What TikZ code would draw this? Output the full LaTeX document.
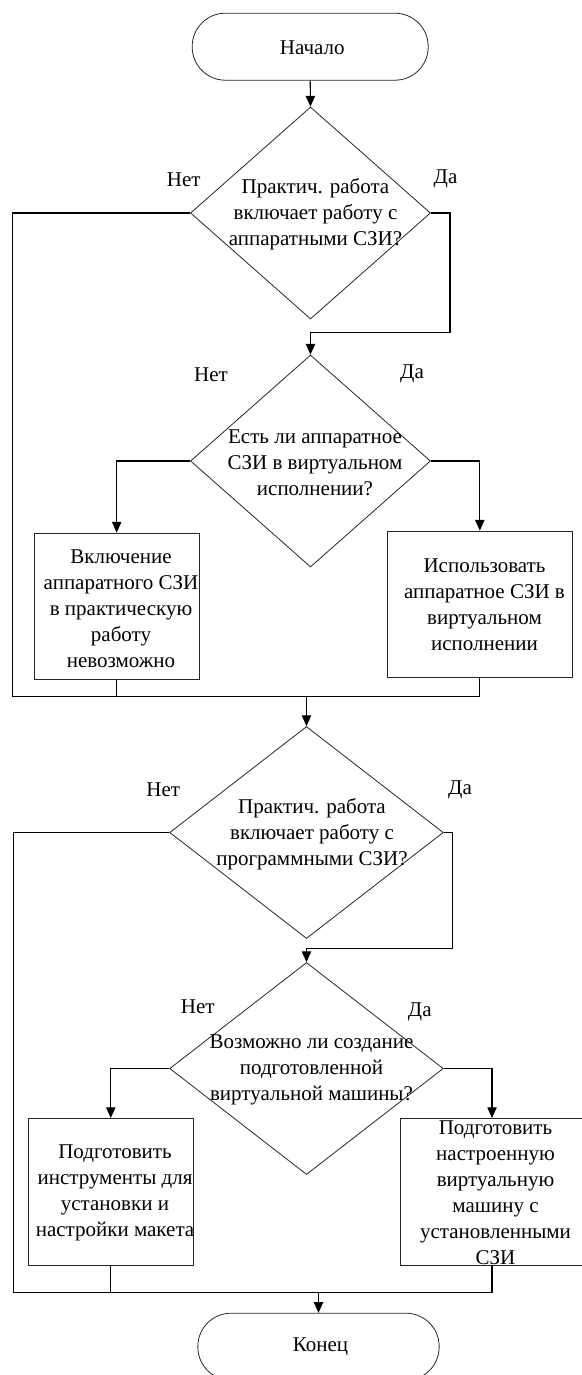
\documentclass[tikz,border=0pt]{standalone}
\usepackage{fontspec}
\setmainfont{Liberation Serif}
\usetikzlibrary{arrows.meta,shapes.geometric}
\begin{document}
\begin{tikzpicture}[x=0.75pt,y=-0.75pt,
  every node/.style={font=\fontsize{15.75}{19.5}\selectfont, inner sep=0pt},
  shapeline/.style={draw=black!85, line width=0.6pt},
  terminal/.style={shapeline, rectangle, rounded corners=24.9pt, minimum height=50.25pt},
  decision/.style={shapeline, diamond, minimum height=159pt},
  process/.style={shapeline, rectangle, minimum height=110pt},
  txt/.style={align=center},
  conn/.style={draw=black, line width=0.8pt},
  arr/.style={conn, -{Triangle[length=8pt,width=7pt]}}
]
\useasboundingbox (0,0) rectangle (582,1375);

% nodes
\node[terminal, minimum width=177pt] (start) at (310.2,46.7) {};
\node (startt) at (312.2,48) {Начало};

\node[decision, minimum width=180pt] (d1) at (310.5,213) {};
\node[txt] (d1t) at (315.5,214) {Практич. работа\\включает работу с\\аппаратными СЗИ?};

\node[decision, minimum width=180pt] (d2) at (310.5,461) {};
\node[txt] (d2t) at (315,462.5) {Есть ли аппаратное\\СЗИ в виртуальном\\исполнении?};

\node[process, minimum width=123.75pt] (b1) at (116.7,606.3) {};
\node[txt] (b1t) at (121,608.3) {Включение\\аппаратного СЗИ\\в практическую\\работу\\невозможно};

\node[process, minimum width=138.3pt] (b2) at (479.8,604.3) {};
\node[txt] (b2t) at (484.5,605) {Использовать\\аппаратное СЗИ в\\виртуальном\\исполнении};

\node[decision, minimum width=205.2pt] (d3) at (306.5,832.5) {};
\node[txt] (d3t) at (312,834) {Практич. работа\\включает работу с\\программными СЗИ?};

\node[decision, minimum width=205.2pt] (d4) at (306.5,1068.5) {};
\node[txt] (d4t) at (311.5,1070) {Возможно ли создание\\подготовленной\\виртуальной машины?};

\node[process, minimum width=123.9pt] (b3) at (110.8,1191.7) {};
\node[txt] (b3t) at (115,1193) {Подготовить\\инструменты для\\установки и\\настройки макета};

\node[process, minimum width=138pt] (b4) at (492,1191.7) {};
\node[txt] (b4t) at (495.5,1192.3) {Подготовить\\настроенную\\виртуальную\\машину с\\установленными\\СЗИ};

\node[terminal, minimum width=181pt] (end) at (318.5,1346.7) {};
\node (endt) at (320.5,1347) {Конец};

% labels
\node (n1) at (183.7,179.3) {Нет};
\node (y1) at (445.5,179.3) {Да};
\node (n2) at (211,374.3) {Нет};
\node (y2) at (412,374.3) {Да};
\node (n3) at (163.3,790) {Нет};
\node (y3) at (460,790) {Да};
\node (n4) at (197.8,1006.7) {Нет};
\node (y4) at (419.8,1012.3) {Да};

% helper coordinates
\coordinate (cL1) at (12.2,696.7);
\coordinate (cJ1) at (306.5,696.7);
\coordinate (cR1) at (450,332.7);
\coordinate (cL2) at (13.4,1292.7);
\coordinate (cJ2) at (318.5,1292.7);
\coordinate (cR2) at (452.1,948.3);

% connectors
\draw[arr] (start.south) -- (d1.north);
\draw[conn] (d1.west) -| (cL1) -- (cJ1);
\draw[arr] (d1.east) -| (cR1) -| (d2.north);
\draw[arr] (d2.west) -| (b1.north);
\draw[arr] (d2.east) -| (b2.north);
\draw[conn] (b1.south) |- (cJ1);
\draw[conn] (b2.south) |- (cJ1);
\draw[arr] (cJ1) -- (d3.north);
\draw[conn] (d3.west) -| (cL2) -- (cJ2);
\draw[arr] (d3.east) -| (cR2) -| (d4.north);
\draw[arr] (d4.west) -| (b3.north);
\draw[arr] (d4.east) -| (b4.north);
\draw[conn] (b3.south) |- (cJ2);
\draw[conn] (b4.south) |- (cJ2);
\draw[arr] (cJ2) -- (end.north);
\end{tikzpicture}
\end{document}
